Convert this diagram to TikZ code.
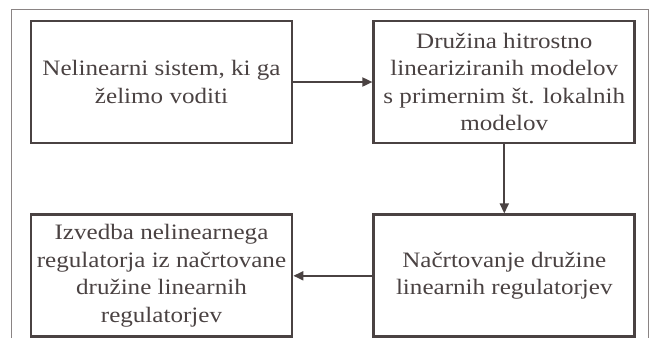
\documentclass[tikz,border=0pt]{standalone}
\usepackage{fontspec}
\setmainfont{Liberation Serif}
\newfontfamily\boxfont[FakeStretch=1.14]{Liberation Serif}
\usepackage{tikz}
\usetikzlibrary{arrows.meta,positioning}
\definecolor{FrameGray}{HTML}{8A8484}
\definecolor{BoxInk}{HTML}{4A4242}

\begin{document}
\begin{tikzpicture}[x=1pt,y=-1pt,>={Triangle[length=10pt,width=9pt]},
  stepbox/.style={draw=BoxInk,line width=2.8pt,minimum width=261pt,minimum height=122pt,
    align=center,inner sep=0pt,text=BoxInk,font=\boxfont\fontsize{22}{27.5}\selectfont},
  flow/.style={BoxInk,line width=1.8pt,->}]
  \useasboundingbox (0,0) rectangle (654,338);
  % outer frame, open at the bottom
  \draw[FrameGray,line width=0.8pt] (11,338) -- (11,9) -- (648,9) -- (648,338);
  \node[stepbox] (sys) at (161.5,82) {Nelinearni sistem, ki ga\\želimo voditi};
  \node[stepbox,right=79pt of sys] (models)
    {Družina hitrostno\\lineariziranih modelov\\s primernim št. lokalnih\\modelov};
  \node[stepbox,below=69pt of models] (design)
    {Načrtovanje družine\\linearnih regulatorjev};
  \node[stepbox,left=79pt of design] (impl)
    {Izvedba nelinearnega\\regulatorja iz načrtovane\\družine linearnih\\regulatorjev};
  \draw[flow] (sys) -- (models);
  \draw[flow] (models) -- (design);
  \draw[flow] (design) -- (impl);
\end{tikzpicture}
\end{document}
